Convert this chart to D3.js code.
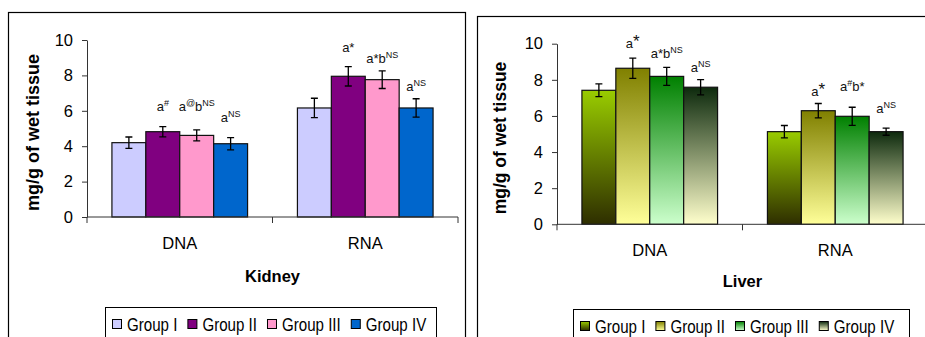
<!DOCTYPE html>
<html>
<head>
<meta charset="utf-8">
<script src="https://cdn.jsdelivr.net/npm/d3@7"></script>
<style>
    body { margin: 0; background: #fff; }
    svg { display: block; font-family: Arial, "Liberation Sans", sans-serif; }
</style>
</head>
<body>
<svg width="925" height="337"></svg>
<script>
// values
const categories = ["DNA", "RNA"];
const groups = ["Group I", "Group II", "Group III", "Group IV"];
const yTicks = [0, 2, 4, 6, 8, 10];

const kidneyMeans = [[4.2, 4.82, 4.61, 4.14], [6.16, 7.95, 7.76, 6.16]];
const kidneyErrors = [[0.32, 0.29, 0.31, 0.35], [0.55, 0.55, 0.5, 0.52]];
const kidneyNotes = [["", "a{#}", "a{@}b{NS}", "a{NS}"], ["", "a*", "a*b{NS}", "a{NS}"]];
const kidneyNoteAt = [[0, 5.99, 5.99, 5.38], [0, 9.34, 8.68, 7.14]];
const kidneyColors = ["#ccccff", "#800080", "#ff99cc", "#0066cc"];

const liverMeans = [[7.42, 8.64, 8.19, 7.59], [5.13, 6.29, 5.98, 5.13]];
const liverErrors = [[0.35, 0.56, 0.5, 0.42], [0.34, 0.4, 0.5, 0.2]];
const liverNotes = [["", "a[*]", "a*b{NS}", "a{NS}"], ["", "a[*]", "a{#}b*", "a{NS}"]];
const liverNoteAt = [[0, 9.75, 9.19, 8.45], [0, 7.1, 7.4, 6.15]];
const liverGradients = [["#99cc00", "#2e2e00"], ["#808000", "#ffff99"], ["#008000", "#ccffcc"], ["#0d2a0d", "#ffffcc"]];

let svg = d3.select("svg");
let defs = svg.append("defs");

liverGradients.forEach(function (g, i) {
    let lg = defs.append("linearGradient")
        .attr("id", "lg" + i)
        .attr("x1", 0).attr("y1", 0).attr("x2", 0).attr("y2", 1);
    lg.append("stop").attr("offset", "0%").attr("stop-color", g[0]);
    lg.append("stop").attr("offset", "100%").attr("stop-color", g[1]);
});

// page frames of the two figures
svg.append("rect").attr("x", 8.5).attr("y", 12.5).attr("width", 457).attr("height", 400)
    .attr("fill", "none").attr("stroke", "#000").attr("stroke-width", 1.2);
svg.append("rect").attr("x", 477.5).attr("y", 16.5).attr("width", 500).attr("height", 400)
    .attr("fill", "none").attr("stroke", "#000").attr("stroke-width", 1.2);

function addNote(sel, note) {
    // {x} = small superscript, [x] = big raised star
    let parts = note.match(/\{[^}]*\}|\[[^\]]*\]|[^{\[]+/g) || [];
    let shift = 0;
    parts.forEach(function (p) {
        let t = sel.append("tspan");
        if (p[0] === "{") {
            t.text(p.slice(1, -1)).attr("font-size", 9).attr("dy", -5 - shift);
            shift = -5;
        } else if (p[0] === "[") {
            t.text(p.slice(1, -1)).attr("font-size", 17).attr("dy", -1 - shift);
            shift = -1;
        } else {
            t.text(p).attr("dy", -shift);
            shift = 0;
        }
    });
}

function drawPanel(o) {
    let x0 = d3.scaleBand().domain(categories).range([o.left, o.right]);
    let x1 = d3.scaleBand().domain(groups).range([0, x0.bandwidth()]).paddingOuter(0.735);
    let y = d3.scaleLinear().domain([0, 10]).range([o.bottom, o.top]);

    let g = svg.append("g");

    // y axis
    let ya = g.append("g")
        .attr("transform", "translate(" + o.left + ",0)")
        .call(d3.axisLeft(y).tickValues(yTicks).tickSize(5).tickSizeOuter(0).tickPadding(9));
    ya.select(".domain").attr("stroke", "#333");
    ya.selectAll(".tick line").attr("stroke", "#333");
    ya.selectAll(".tick text").attr("font-size", 16.5).attr("fill", "#000")
        .attr("font-family", "Arial, 'Liberation Sans', sans-serif");

    // bars
    let cat = g.selectAll(".cat")
        .data(categories)
        .enter().append("g")
        .attr("transform", function (d) { return "translate(" + x0(d) + ",0)"; });

    cat.each(function (c, ci) {
        let cg = d3.select(this);
        cg.selectAll("rect")
            .data(groups)
            .enter().append("rect")
            .attr("x", function (d) { return x1(d); })
            .attr("y", function (d, i) { return y(o.means[ci][i]); })
            .attr("width", x1.bandwidth())
            .attr("height", function (d, i) { return y(0) - y(o.means[ci][i]); })
            .attr("fill", function (d, i) { return o.fill(i); })
            .attr("stroke", "#111")
            .attr("stroke-width", 1.2);

        groups.forEach(function (d, i) {
            let cx = x1(d) + x1.bandwidth() / 2;
            let hi = y(o.means[ci][i] + o.errors[ci][i]);
            let lo = y(o.means[ci][i] - o.errors[ci][i]);
            let path = "M" + cx + "," + hi + "V" + lo +
                "M" + (cx - 3.5) + "," + hi + "H" + (cx + 3.5) +
                "M" + (cx - 3.5) + "," + lo + "H" + (cx + 3.5);
            cg.append("path").attr("d", path).attr("stroke", "#000")
                .attr("stroke-width", 1.3).attr("fill", "none");

            if (o.notes[ci][i]) {
                let t = cg.append("text")
                    .attr("x", cx)
                    .attr("y", y(o.noteAt[ci][i]))
                    .attr("text-anchor", "middle")
                    .attr("font-size", 13)
                    .attr("fill", "#111");
                addNote(t, o.notes[ci][i]);
            }
        });
    });

    // x axis
    let xa = g.append("g")
        .attr("transform", "translate(0," + o.bottom + ")")
        .call(d3.axisBottom(x0).tickSize(0).tickPadding(20));
    xa.select(".domain").remove();
    xa.selectAll(".tick text").attr("font-size", 16.5).attr("fill", "#000")
        .attr("font-family", "Arial, 'Liberation Sans', sans-serif");
    g.append("path")
        .attr("d", "M" + o.left + "," + o.bottom + "H" + o.right +
            "M" + o.left + "," + o.bottom + "v6" +
            "M" + ((o.left + o.right) / 2) + "," + o.bottom + "v6" +
            "M" + o.right + "," + o.bottom + "v6")
        .attr("stroke", "#333").attr("fill", "none");

    // titles
    g.append("text")
        .attr("transform", "translate(" + o.yLabelX + "," + ((o.top + o.bottom) / 2 + 4) + ") rotate(-90)")
        .attr("text-anchor", "middle")
        .attr("font-size", o.yLabelSize)
        .attr("font-weight", "bold")
        .text("mg/g of wet tissue");
    g.append("text")
        .attr("x", (o.left + o.right) / 2)
        .attr("y", o.titleY)
        .attr("text-anchor", "middle")
        .attr("font-size", 16.5)
        .attr("font-weight", "bold")
        .text(o.title);

    // legend
    g.append("rect")
        .attr("x", o.legend[0] + 0.5).attr("y", o.legend[1] + 0.5)
        .attr("width", o.legend[2]).attr("height", 60)
        .attr("fill", "#fff").attr("stroke", "#000");
    let cursor = o.legend[0] + 7;
    groups.forEach(function (d, i) {
        g.append("rect")
            .attr("x", cursor + 0.5).attr("y", o.legend[1] + 12.5)
            .attr("width", 9).attr("height", 9)
            .attr("fill", o.fill(i)).attr("stroke", "#000");
        let t = g.append("text")
            .attr("transform", "translate(" + (cursor + 15) + "," + (o.legend[1] + 24) + ") scale(0.84,1)")
            .attr("font-size", 18)
            .text(d);
        cursor += 15 + t.node().getComputedTextLength() * 0.84 + 10;
    });
}

drawPanel({
    left: 87, right: 458, top: 40, bottom: 217,
    means: kidneyMeans, errors: kidneyErrors, notes: kidneyNotes, noteAt: kidneyNoteAt,
    fill: function (i) { return kidneyColors[i]; },
    title: "Kidney", titleY: 282, yLabelX: 39, yLabelSize: 18,
    legend: [105, 307, 331]
});

drawPanel({
    left: 557, right: 928, top: 43.7, bottom: 224.3,
    means: liverMeans, errors: liverErrors, notes: liverNotes, noteAt: liverNoteAt,
    fill: function (i) { return "url(#lg" + i + ")"; },
    title: "Liver", titleY: 287, yLabelX: 506, yLabelSize: 17.5,
    legend: [573, 309, 336]
});
</script>
</body>
</html>
